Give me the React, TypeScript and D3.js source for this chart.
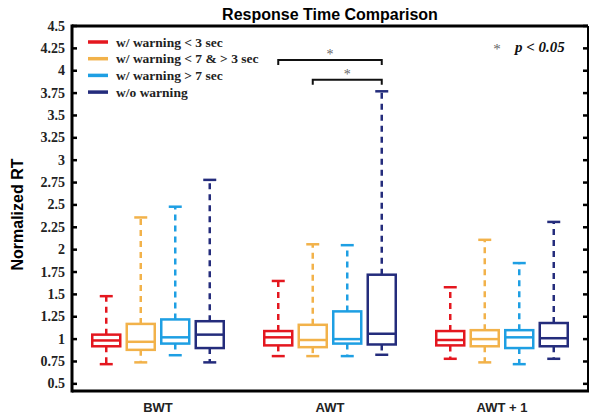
import React from "react";
import * as d3 from "d3";

const categories = ["BWT", "AWT", "AWT + 1"];
const seriesNames = ["w/ warning < 3 sec", "w/ warning < 7 & > 3 sec", "w/ warning > 7 sec", "w/o warning"];
const seriesColors = ["#e4171f", "#f2b24a", "#1e9fe3", "#242c7c"];
// [lowerWhisker, q1, median, q3, upperWhisker] for each category
const redStats = [
  [0.72, 0.92, 0.985, 1.05, 1.48],
  [0.81, 0.93, 1.02, 1.09, 1.65],
  [0.78, 0.93, 0.99, 1.09, 1.58],
];
const orangeStats = [
  [0.74, 0.88, 0.97, 1.17, 2.36],
  [0.81, 0.91, 0.99, 1.16, 2.06],
  [0.74, 0.92, 1.0, 1.1, 2.11],
];
const blueStats = [
  [0.82, 0.95, 1.02, 1.22, 2.48],
  [0.81, 0.95, 1.0, 1.31, 2.05],
  [0.72, 0.9, 1.02, 1.1, 1.85],
];
const navyStats = [
  [0.74, 0.9, 1.05, 1.2, 2.78],
  [0.825, 0.94, 1.06, 1.72, 3.77],
  [0.78, 0.92, 1.01, 1.18, 2.31],
];
const allStats = [redStats, orangeStats, blueStats, navyStats];
const yTicks = [0.5, 0.75, 1, 1.25, 1.5, 1.75, 2, 2.25, 2.5, 2.75, 3, 3.25, 3.5, 3.75, 4, 4.25, 4.5];
// significance brackets within AWT: [fromSeries, toSeries, yValue]
const brackets = [
  [0, 3, 4.12],
  [1, 3, 3.9],
];

const W = 590;
const H = 417;
const L = 72, R = 588, T = 26, B = 391;

export default function App() {
  const x = d3.scaleBand<string>().domain(categories).range([L, R]).padding(0);
  const inner = d3.scaleBand<string>().domain(seriesNames).range([-69, 69]).padding(0);
  const y = d3.scaleLinear().domain([0.42, 4.5]).range([B, T]);
  const boxW = 28;
  const capW = 13;
  const serif = "'Liberation Serif', 'Times New Roman', serif";
  const sans = "'Liberation Sans', Arial, sans-serif";

  const cx = (ci: number, si: number) =>
    (x(categories[ci]) as number) + x.bandwidth() / 2 + (inner(seriesNames[si]) as number) + inner.bandwidth() / 2;

  return (
    <svg width={W} height={H} style={{ position: "absolute", left: 0, top: 0, background: "#fff" }}>
      <rect x={0} y={0} width={W} height={H} fill="#fff" />
      <text x={330} y={20} textAnchor="middle" fontFamily={sans} fontWeight="bold" fontSize={16}>
        Response Time Comparison
      </text>
      <text
        transform={`translate(23,${(T + B) / 2 + 6}) rotate(-90)`}
        textAnchor="middle"
        fontFamily={sans}
        fontWeight="bold"
        fontSize={16}
      >
        Normalized RT
      </text>

      {/* boxes */}
      {allStats.map((stats, si) =>
        stats.map((s, ci) => {
          const c = cx(ci, si);
          const col = seriesColors[si];
          const [lo, q1, med, q3, hi] = s;
          return (
            <g key={`${si}-${ci}`} stroke={col} fill="none" strokeWidth={2.5}>
              <line x1={c} x2={c} y1={y(q3)} y2={y(hi)} strokeDasharray="6,5" />
              <line x1={c} x2={c} y1={y(q1)} y2={y(lo)} strokeDasharray="6,5" />
              <line x1={c - capW / 2} x2={c + capW / 2} y1={y(hi)} y2={y(hi)} />
              <line x1={c - capW / 2} x2={c + capW / 2} y1={y(lo)} y2={y(lo)} />
              <rect x={c - boxW / 2} y={y(q3)} width={boxW} height={y(q1) - y(q3)} fill="#fff" />
              <line x1={c - boxW / 2} x2={c + boxW / 2} y1={y(med)} y2={y(med)} />
            </g>
          );
        })
      )}

      {/* significance brackets */}
      {brackets.map((b, i) => {
        const x1 = cx(1, b[0]);
        const x2 = cx(1, b[1]);
        const yy = y(b[2]);
        return (
          <g key={i}>
            <path d={`M${x1},${yy + 5}V${yy}H${x2}V${yy + 5}`} fill="none" stroke="#111" strokeWidth={2} />
            <text x={(x1 + x2) / 2} y={yy - 1} textAnchor="middle" fontFamily={serif} fontSize={14} fill="#666">
              *
            </text>
          </g>
        );
      })}

      <text x={497} y={54} textAnchor="middle" fontFamily={serif} fontSize={15} fill="#666">*</text>
      <text x={515} y={52} fontFamily={serif} fontSize={15} fontWeight="bold" fontStyle="italic" fill="#111">
        p &lt; 0.05
      </text>

      {/* legend */}
      {seriesNames.map((n, i) => (
        <g key={n}>
          <line x1={88} x2={108} y1={42 + i * 16.7} y2={42 + i * 16.7} stroke={seriesColors[i]} strokeWidth={3.5} />
          <text x={116} y={46.5 + i * 16.7} fontFamily={serif} fontWeight="bold" fontSize={13.5} fill="#222">
            {n}
          </text>
        </g>
      ))}

      {/* axes frame */}
      <line x1={R} x2={R} y1={T} y2={B} stroke="#000" strokeWidth={2} />
      <line x1={L} x2={R} y1={T} y2={T} stroke="#000" strokeWidth={3} />
      <line x1={L} x2={R + 1} y1={B} y2={B} stroke="#000" strokeWidth={3} />
      <line x1={L} x2={L} y1={T - 1.5} y2={B + 1.5} stroke="#000" strokeWidth={3} />
      {yTicks.map((t) => (
        <g key={t}>
          <line x1={L} x2={L + 5} y1={y(t)} y2={y(t)} stroke="#000" strokeWidth={2.5} />
          <line x1={R - 5} x2={R} y1={y(t)} y2={y(t)} stroke="#000" strokeWidth={2.5} />
          <text x={65} y={y(t) + 4.5} textAnchor="end" fontFamily={serif} fontWeight="bold" fontSize={14} fill="#222">
            {String(t)}
          </text>
        </g>
      ))}
      {categories.map((c) => (
        <text
          key={c}
          x={(x(c) as number) + x.bandwidth() / 2}
          y={412}
          textAnchor="middle"
          fontFamily={sans}
          fontWeight="bold"
          fontSize={13}
          fill="#222"
        >
          {c}
        </text>
      ))}
    </svg>
  );
}
